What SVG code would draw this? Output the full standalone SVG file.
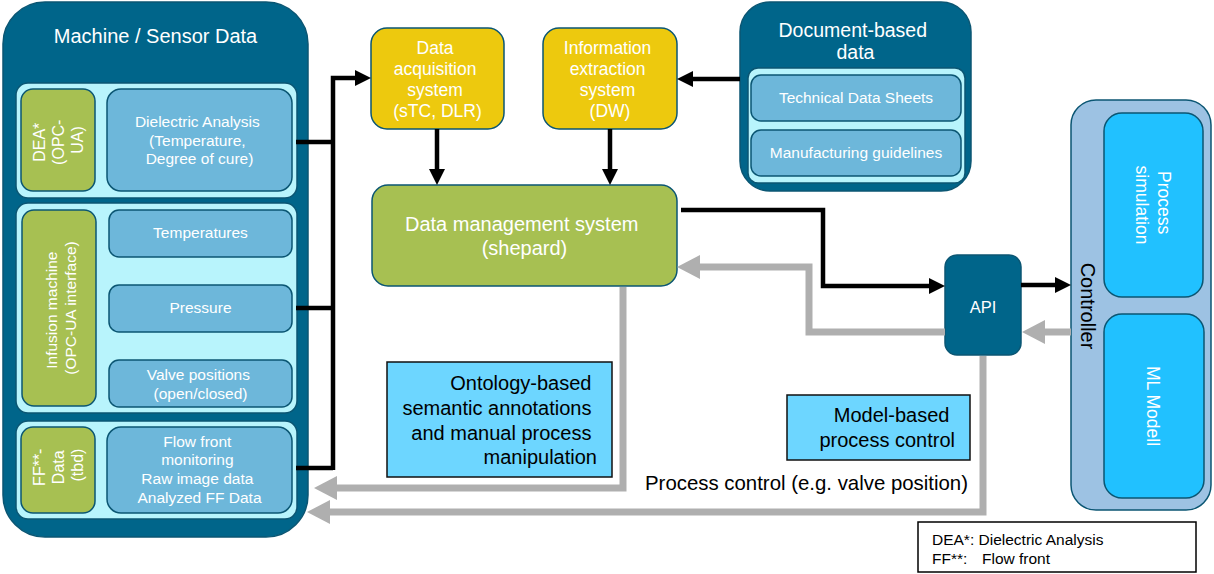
<svg xmlns="http://www.w3.org/2000/svg" width="1214" height="574" viewBox="0 0 1214 574">
  <style>
    text { font-family: "Liberation Sans", Arial, sans-serif; }
    .frame { fill: #00658A; stroke: #0B5673; stroke-width: 1.5; }
    .panel { fill: #B8F4FC; stroke: #0B5673; stroke-width: 1.5; }
    .green { fill: #A7C052; stroke: #0B5673; stroke-width: 1.5; }
    .blue { fill: #6DB7DA; stroke: #0B5673; stroke-width: 1.5; }
    .yellow { fill: #EDC90E; stroke: #0B5673; stroke-width: 1.5; }
    .ctrl { fill: #9DC2E3; stroke: #0B5673; stroke-width: 1.5; }
    .bright { fill: #21C1FF; stroke: #0B5673; stroke-width: 1.5; }
    .note { fill: #6DD6FF; stroke: #111111; stroke-width: 1.5; }
    .wt { fill: #FFFFFF; text-anchor: middle; }
    .bt { fill: #000000; }
    .t20 { font-size: 20px; }
    .t175 { font-size: 17.5px; }
    .t155 { font-size: 15.5px; }
    .t16 { font-size: 16px; }
    .blk { fill: none; stroke: #000000; stroke-width: 4.5; stroke-linejoin: miter; }
    .gry { fill: none; stroke: #AFAFAF; stroke-width: 7; stroke-linejoin: miter; }
  </style>
  <defs>
    <marker id="ah-black" viewBox="0 0 16 16" markerWidth="16" markerHeight="16" refX="2" refY="8" orient="auto" markerUnits="userSpaceOnUse">
      <path d="M0,0 L16,8 L0,16 z" fill="#000000"/>
    </marker>
    <marker id="ah-gray" viewBox="0 0 23 24" markerWidth="23" markerHeight="24" refX="2" refY="12" orient="auto" markerUnits="userSpaceOnUse">
      <path d="M0,0 L23,12 L0,24 z" fill="#AFAFAF"/>
    </marker>
  </defs>

  <!-- Machine / Sensor Data -->
  <g id="machine-sensor-data">
    <rect class="frame" x="3" y="2" width="305" height="535" rx="42"/>
    <text class="wt t20" x="155.5" y="43">Machine / Sensor Data</text>

    <g id="dea-panel">
      <rect class="panel" x="16" y="83" width="281" height="115" rx="12"/>
      <rect class="green" x="21" y="89" width="74" height="102" rx="12"/>
      <text class="wt t16" transform="translate(58,140) rotate(-90)">
        <tspan x="0" y="-13">DEA*</tspan>
        <tspan x="0" y="6">(OPC-</tspan>
        <tspan x="0" y="25">UA)</tspan>
      </text>
      <rect class="blue" x="107" y="89" width="185" height="102" rx="14"/>
      <text class="wt t155">
        <tspan x="199.5" y="127">Dielectric Analysis</tspan>
        <tspan x="199.5" y="146">(Temperature,</tspan>
        <tspan x="199.5" y="164">Degree of cure)</tspan>
      </text>
    </g>

    <g id="infusion-panel">
      <rect class="panel" x="16" y="203" width="281" height="210" rx="12"/>
      <rect class="green" x="22" y="210" width="74" height="196" rx="12"/>
      <text class="wt t155" transform="translate(58,308) rotate(-90)">
        <tspan x="0" y="-1">Infusion machine</tspan>
        <tspan x="0" y="17.5">(OPC-UA interface)</tspan>
      </text>
      <rect class="blue" x="109" y="210" width="183" height="47" rx="10"/>
      <text class="wt t155" x="200.5" y="238">Temperatures</text>
      <rect class="blue" x="109" y="285" width="183" height="47" rx="10"/>
      <text class="wt t155" x="200.5" y="313">Pressure</text>
      <rect class="blue" x="109" y="360" width="183" height="47" rx="10"/>
      <text class="wt t155">
        <tspan x="200.5" y="380">Valve positions</tspan>
        <tspan x="200.5" y="399">(open/closed)</tspan>
      </text>
    </g>

    <g id="ff-panel">
      <rect class="panel" x="16" y="421" width="281" height="98" rx="12"/>
      <rect class="green" x="21" y="427" width="74" height="86" rx="12"/>
      <text class="wt t16" transform="translate(58,465) rotate(-90)">
        <tspan x="0" y="-13">FF**-</tspan>
        <tspan x="0" y="6">Data</tspan>
        <tspan x="0" y="25">(tbd)</tspan>
      </text>
      <rect class="blue" x="107" y="427" width="185" height="86" rx="14"/>
      <text class="wt t155">
        <tspan x="199.5" y="447">Flow front</tspan>
        <tspan x="199.5" y="465">monitoring</tspan>
        <tspan x="199.5" y="484">Raw image data</tspan>
        <tspan x="199.5" y="503">Analyzed FF Data</tspan>
      </text>
    </g>
  </g>

  <!-- Data acquisition system -->
  <g id="data-acquisition">
    <rect class="yellow" x="371" y="28" width="133" height="101" rx="16"/>
    <text class="wt t175">
      <tspan x="437.5" y="54">Data</tspan>
      <tspan x="437.5" y="75">acquisition</tspan>
      <tspan x="437.5" y="96">system</tspan>
      <tspan x="437.5" y="117">(sTC, DLR)</tspan>
    </text>
  </g>

  <!-- Information extraction system -->
  <g id="information-extraction">
    <rect class="yellow" x="543" y="28" width="134" height="101" rx="16"/>
    <text class="wt t175">
      <tspan x="610" y="54">Information</tspan>
      <tspan x="610" y="75">extraction</tspan>
      <tspan x="610" y="96">system</tspan>
      <tspan x="610" y="117">(DW)</tspan>
    </text>
  </g>

  <!-- Data management system -->
  <g id="data-management">
    <rect class="green" x="372" y="185" width="305" height="101" rx="16"/>
    <text class="wt t20">
      <tspan x="524.5" y="231">Data management system</tspan>
      <tspan x="524.5" y="255">(shepard)</tspan>
    </text>
  </g>

  <!-- Document-based data -->
  <g id="document-data">
    <rect class="frame" x="740" y="2" width="231" height="189" rx="30"/>
    <text class="wt" style="font-size:19.5px">
      <tspan x="855.5" y="37">Document-based</tspan>
      <tspan x="855.5" y="59">data</tspan>
    </text>
    <rect class="panel" x="748" y="68" width="217" height="115" rx="10"/>
    <rect class="blue" x="751" y="75" width="210" height="46" rx="10"/>
    <text class="wt t155" x="856" y="103">Technical Data Sheets</text>
    <rect class="blue" x="751" y="130" width="210" height="46" rx="10"/>
    <text class="wt t155" x="856" y="158">Manufacturing guidelines</text>
  </g>

  <!-- Controller -->
  <g id="controller">
    <rect class="ctrl" x="1071" y="100" width="140" height="410" rx="25"/>
    <text class="bt t20" text-anchor="middle" transform="translate(1081,306) rotate(90)">Controller</text>
    <rect class="bright" x="1104" y="113" width="99" height="184" rx="18"/>
    <text class="wt t175" transform="translate(1153,205) rotate(90)">
      <tspan x="0" y="-5">Process</tspan>
      <tspan x="0" y="17">simulation</tspan>
    </text>
    <rect class="bright" x="1104" y="314" width="100" height="184" rx="18"/>
    <text class="wt t175" transform="translate(1147,406) rotate(90)">ML Modell</text>
  </g>

  <!-- API -->
  <g id="api">
    <rect class="frame" x="945" y="255" width="76" height="100" rx="12"/>
    <text class="wt" style="font-size:16.5px" x="983" y="313">API</text>
  </g>

  <!-- Annotations -->
  <g id="ontology-note">
    <rect class="note" x="387" y="362" width="225" height="115"/>
    <text class="bt t20" text-anchor="end">
      <tspan x="597" y="390">Ontology-based</tspan>
      <tspan x="597" y="415">semantic annotations</tspan>
      <tspan x="597" y="440">and manual process</tspan>
      <tspan x="597" y="464">manipulation</tspan>
    </text>
  </g>
  <g id="model-note">
    <rect class="note" x="787" y="395" width="183" height="65"/>
    <text class="bt t20" text-anchor="end">
      <tspan x="955" y="422">Model-based</tspan>
      <tspan x="955" y="447">process control</tspan>
    </text>
  </g>
  <g id="process-control-label">
    <text class="bt" style="font-size:20.4px" text-anchor="end" x="968" y="490">Process control (e.g. valve position)</text>
  </g>

  <!-- Legend -->
  <g id="legend">
    <rect x="918" y="522" width="278" height="50" fill="#FFFFFF" stroke="#000000" stroke-width="1.5"/>
    <text class="bt t155">
      <tspan x="932" y="545">DEA*: Dielectric Analysis</tspan>
      <tspan x="932" y="564">FF**:</tspan><tspan x="982" y="564">Flow front</tspan>
    </text>
  </g>

  <!-- Connectors -->
  <g id="connectors">
    <path class="blk" d="M296,142 H333"/>
    <path class="blk" d="M296,308 H333"/>
    <path class="blk" d="M296,468 H333"/>
    <path class="blk" d="M333,470 V78 H357" marker-end="url(#ah-black)"/>
    <path class="blk" d="M437,129 V171" marker-end="url(#ah-black)"/>
    <path class="blk" d="M610,129 V171" marker-end="url(#ah-black)"/>
    <path class="blk" d="M740,79 H691" marker-end="url(#ah-black)"/>
    <path class="blk" d="M681,210 H823 V286 H931" marker-end="url(#ah-black)"/>
    <path class="blk" d="M1021,285 H1057" marker-end="url(#ah-black)"/>

    <path class="gry" d="M1071,332 H1043" marker-end="url(#ah-gray)"/>
    <path class="gry" d="M945,332 H809 V267 H698" marker-end="url(#ah-gray)"/>
    <path class="gry" d="M623,287 V488 H335" marker-end="url(#ah-gray)"/>
    <path class="gry" d="M983,356 V512 H328" marker-end="url(#ah-gray)"/>
  </g>
</svg>
